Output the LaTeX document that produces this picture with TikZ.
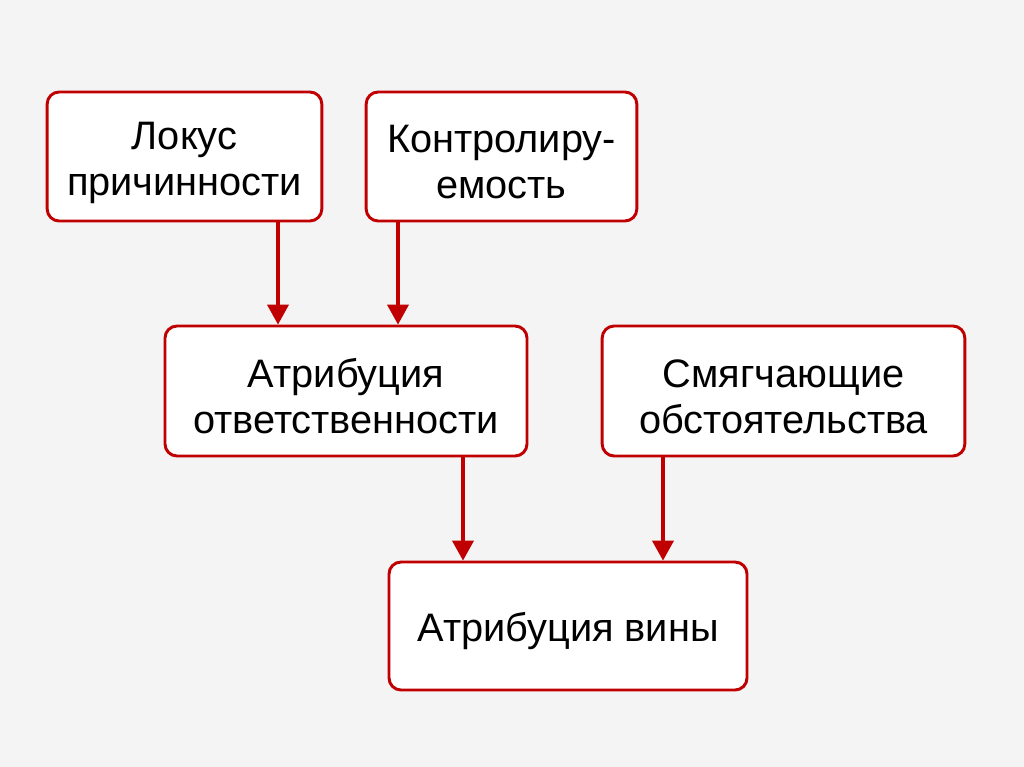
\documentclass[tikz,border=0pt]{standalone}
\usepackage{fontspec}
\setmainfont{Liberation Sans}
\usetikzlibrary{arrows.meta}
\definecolor{bg}{HTML}{F4F4F4}
\definecolor{dred}{HTML}{C00000}
\newcommand{\tstrut}{\rule{0pt}{29.5pt}}
\tikzset{
  box/.style={draw=dred, line width=2.2pt, fill=white, rounded corners=9pt,
    inner sep=0pt, align=center, font=\fontsize{29.8}{34.5}\selectfont},
  arr/.style={draw=dred, line width=2.3pt, -{Triangle[length=15pt,width=16pt]}}
}
\begin{document}
\begin{tikzpicture}[x=0.75pt,y=-0.75pt]
\fill[bg] (0,0) rectangle (1024,767);
\useasboundingbox (0,0) rectangle (1024,767);
\node[box, minimum width=206pt, minimum height=96.75pt] (loc) at (184.5,156.5) {\tstrut Локус\\причинности};
\node[box, minimum width=203pt, minimum height=96.75pt] (con) at (501.5,156.5) {\tstrut Контролиру-\\емость};
\node[box, minimum width=271.5pt, minimum height=97.5pt] (otv) at (346,391) {\tstrut Атрибуция\\ответственности};
\node[box, minimum width=272pt, minimum height=97.5pt] (smg) at (783.5,391) {\tstrut Смягчающие\\обстоятельства};
\node[box, minimum width=268.5pt, minimum height=96pt] (vin) at (568,626) {\tstrut Атрибуция вины};
\draw[arr] (loc.south -| 278,0) -- (otv.north -| 278,0);
\draw[arr] (con.south -| 398,0) -- (otv.north -| 398,0);
\draw[arr] (otv.south -| 463,0) -- (vin.north -| 463,0);
\draw[arr] (smg.south -| 663,0) -- (vin.north -| 663,0);
\end{tikzpicture}
\end{document}
